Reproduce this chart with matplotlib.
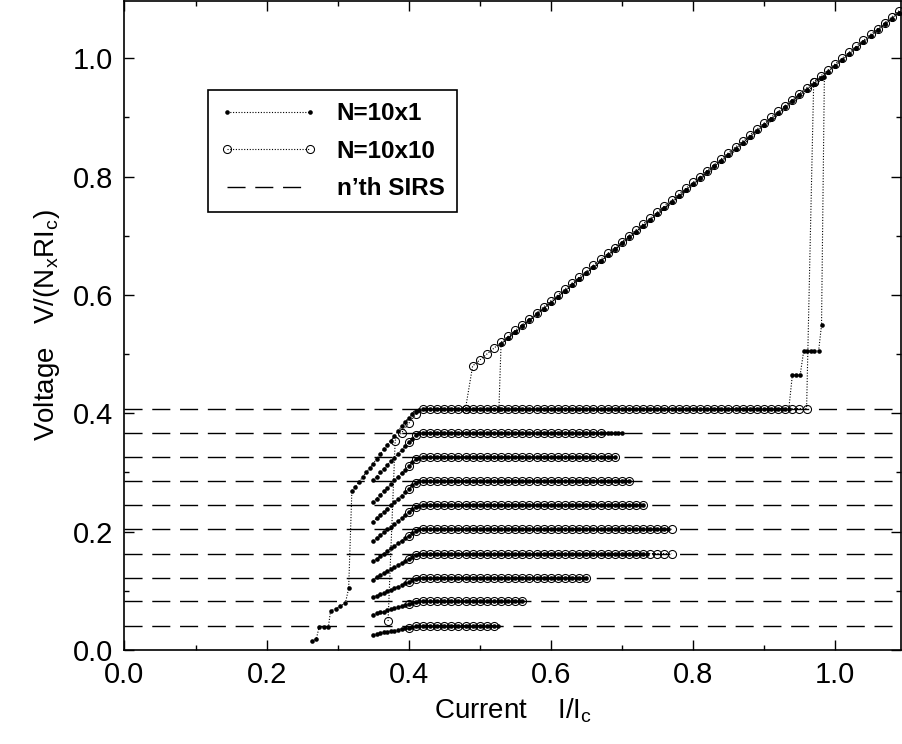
import numpy as np
import matplotlib
matplotlib.use('Agg')
import matplotlib.pyplot as plt
from matplotlib.ticker import MultipleLocator

plt.rcParams['font.family'] = ['Liberation Sans', 'DejaVu Sans']
plt.rcParams['mathtext.fontset'] = 'custom'
plt.rcParams['mathtext.rm'] = 'Liberation Sans'

# niveaux des n-ièmes SIRS
sirs_levels = [0.041, 0.082, 0.122, 0.163, 0.204, 0.245, 0.286, 0.326, 0.367, 0.408]

# N=10x1 : marche principale (balayage montant)
main1_i = [0.264, 0.270, 0.274, 0.281, 0.287, 0.290, 0.297, 0.304, 0.311, 0.3155,
           0.320, 0.325, 0.330, 0.335, 0.340, 0.345, 0.350, 0.355, 0.360, 0.365,
           0.370, 0.375, 0.380, 0.385, 0.390, 0.395, 0.400, 0.405, 0.410, 0.415]
main1_v = [0.015, 0.019, 0.039, 0.039, 0.039, 0.066, 0.070, 0.074, 0.080, 0.104,
           0.268, 0.276, 0.284, 0.292, 0.300, 0.307, 0.315, 0.323, 0.331, 0.339,
           0.347, 0.354, 0.362, 0.370, 0.378, 0.386, 0.392, 0.398, 0.403, 0.406]
plateau1_end = 0.935
jump1_i = [0.940, 0.945, 0.951, 0.956, 0.961, 0.966, 0.971, 0.977, 0.981, 0.985]
jump1_v = [0.465, 0.465, 0.465, 0.506, 0.506, 0.506, 0.506, 0.506, 0.549, 0.968]

# N=10x1 : branches basses (I = 0.350 ... 0.415), puis plateau
rise_i = [0.350, 0.355, 0.360, 0.365, 0.370, 0.375, 0.380, 0.385, 0.390, 0.395,
          0.400, 0.405, 0.410, 0.415]
rise_v = [
    [0.026, 0.027, 0.028, 0.030, 0.031, 0.032, 0.033, 0.034, 0.036, 0.037, 0.038, 0.039, 0.040, 0.041],
    [0.060, 0.062, 0.064, 0.065, 0.067, 0.069, 0.071, 0.072, 0.074, 0.076, 0.078, 0.079, 0.081, 0.082],
    [0.089, 0.092, 0.094, 0.097, 0.100, 0.102, 0.105, 0.107, 0.110, 0.113, 0.115, 0.118, 0.120, 0.122],
    [0.119, 0.123, 0.126, 0.130, 0.133, 0.137, 0.140, 0.144, 0.147, 0.151, 0.154, 0.158, 0.161, 0.163],
    [0.150, 0.154, 0.159, 0.163, 0.167, 0.172, 0.176, 0.180, 0.185, 0.189, 0.193, 0.198, 0.201, 0.204],
    [0.184, 0.189, 0.194, 0.199, 0.204, 0.208, 0.213, 0.218, 0.223, 0.228, 0.233, 0.238, 0.242, 0.244],
    [0.217, 0.223, 0.228, 0.234, 0.239, 0.245, 0.250, 0.256, 0.261, 0.267, 0.272, 0.278, 0.283, 0.285],
    [0.250, 0.256, 0.262, 0.268, 0.274, 0.280, 0.287, 0.293, 0.299, 0.305, 0.311, 0.317, 0.322, 0.325],
    [0.287, 0.293, 0.300, 0.306, 0.313, 0.319, 0.325, 0.332, 0.338, 0.345, 0.351, 0.357, 0.363, 0.366],
]
branch1_end = [0.525, 0.56, 0.65, 0.735, 0.765, 0.73, 0.71, 0.69, 0.70]

# N=10x1 : branche ohmique (I = 0.53 ... 1.09)
ohm1_i = [round(0.53 + 0.01 * k, 2) for k in range(57)]
ohm1_v = [0.517, 0.527, 0.537, 0.547, 0.557, 0.567, 0.577, 0.587, 0.597, 0.607,
          0.617, 0.627, 0.637, 0.647, 0.657, 0.667, 0.677, 0.687, 0.697, 0.707,
          0.717, 0.727, 0.737, 0.747, 0.757, 0.767, 0.777, 0.787, 0.797, 0.807,
          0.817, 0.827, 0.837, 0.847, 0.857, 0.867, 0.877, 0.887, 0.897, 0.907,
          0.917, 0.927, 0.937, 0.947, 0.957, 0.967, 0.977, 0.987, 0.997, 1.007,
          1.017, 1.027, 1.037, 1.047, 1.057, 1.067, 1.077]
drop1_i = 0.527

# N=10x10 : montée principale puis plateau jusqu'à 0.96
main10_i = [0.371, 0.381, 0.390, 0.400, 0.410]
main10_v = [0.049, 0.354, 0.367, 0.383, 0.398]
plateau10_end = 0.96

# N=10x10 : points sur les branches basses (I = 0.40, 0.41)
rise10_i = [0.400, 0.410]
rise10_v = [[0.038, 0.040], [0.078, 0.081], [0.115, 0.120], [0.154, 0.161], [0.193, 0.201],
            [0.233, 0.242], [0.272, 0.283], [0.311, 0.322], [0.351, 0.363]]
branch10_end = [0.52, 0.56, 0.65, 0.77, 0.77, 0.73, 0.71, 0.69, 0.67]

# N=10x10 : branche ohmique (I = 0.49 ... 1.09)
ohm10_i = [round(0.49 + 0.01 * k, 2) for k in range(61)]
ohm10_v = [0.480, 0.490, 0.500, 0.510, 0.520, 0.530, 0.540, 0.550, 0.560, 0.570,
           0.580, 0.590, 0.600, 0.610, 0.620, 0.630, 0.640, 0.650, 0.660, 0.670,
           0.680, 0.690, 0.700, 0.710, 0.720, 0.730, 0.740, 0.750, 0.760, 0.770,
           0.780, 0.790, 0.800, 0.810, 0.820, 0.830, 0.840, 0.850, 0.860, 0.870,
           0.880, 0.890, 0.900, 0.910, 0.920, 0.930, 0.940, 0.950, 0.960, 0.970,
           0.980, 0.990, 1.000, 1.010, 1.020, 1.030, 1.040, 1.050, 1.060, 1.070,
           1.080]
drop10_i = 0.48


def grid(start, stop, step):
    n = int(round((stop - start) / step))
    return [round(start + step * k, 3) for k in range(n + 1)]


fig = plt.figure(figsize=(9.02, 7.44), dpi=100)
ax = fig.add_axes([0.138, 0.1263, 0.861, 0.8727])

dot = dict(color='black', linestyle=(0, (1, 1.5)), linewidth=0.8,
           marker='o', markersize=3.3, markerfacecolor='black', markeredgewidth=0)
circ = dict(color='black', linestyle=(0, (1, 1.5)), linewidth=0.8,
            marker='o', markersize=5.8, markerfacecolor='none', markeredgewidth=0.75)

# lignes SIRS
for lev in sirs_levels:
    ax.plot([0, 1.2], [lev, lev], color='black', linewidth=1.0, dashes=(13, 7), zorder=1)

# ---- N=10x1 ----
top = sirs_levels[-1]
p_i = grid(0.42, plateau1_end, 0.005)
ax.plot(main1_i + p_i + jump1_i + ohm1_i,
        main1_v + [top] * len(p_i) + jump1_v + ohm1_v, zorder=3, **dot)
ax.plot([drop1_i] + ohm1_i, [top] + ohm1_v, zorder=3, **dot)
for k in range(9):
    b_i = grid(0.42, branch1_end[k], 0.005)
    ax.plot(rise_i + b_i, rise_v[k] + [sirs_levels[k]] * len(b_i), zorder=3, **dot)

# ---- N=10x10 ----
p10 = grid(0.42, plateau10_end, 0.01)
ax.plot(main10_i + p10 + [0.97], main10_v + [top] * len(p10) + [ohm10_v[48]], zorder=4, **circ)
ax.plot([drop10_i] + ohm10_i, [top] + ohm10_v, zorder=4, **circ)
for k in range(9):
    b_i = grid(0.42, branch10_end[k], 0.01)
    ax.plot(rise10_i + b_i, rise10_v[k] + [sirs_levels[k]] * len(b_i), zorder=4, **circ)

ax.set_xlim(0, 1.093)
ax.set_ylim(0, 1.097)
ax.xaxis.set_major_locator(MultipleLocator(0.2))
ax.xaxis.set_minor_locator(MultipleLocator(0.1))
ax.yaxis.set_major_locator(MultipleLocator(0.2))
ax.yaxis.set_minor_locator(MultipleLocator(0.1))
ax.xaxis.set_major_formatter(plt.FuncFormatter(lambda v, p: f"{v:.1f}"))
ax.yaxis.set_major_formatter(plt.FuncFormatter(lambda v, p: f"{v:.1f}"))
ax.tick_params(which='both', direction='in', top=True, right=True, labelsize=21, width=1.0)
ax.tick_params(which='major', length=7, pad=8)
ax.tick_params(which='minor', length=3.5)
for s in ax.spines.values():
    s.set_linewidth(1.2)

ax.set_xlabel(r'Current    I/I$_\mathregular{c}$', fontsize=20, labelpad=5)
ax.set_ylabel(r'Voltage   V/(N$_\mathregular{x}$RI$_\mathregular{c}$)', fontsize=20, labelpad=8)

# légende
h1, = ax.plot([], [], **dot)
h2, = ax.plot([], [], **circ)
h3, = ax.plot([], [], color='black', linewidth=1.0, dashes=(13, 7))
leg = ax.legend([h1, h2, h3], ['N=10x1', 'N=10x10', 'n\u2019th SIRS'],
                loc='upper left', bbox_to_anchor=(0.2306, 0.879), bbox_transform=fig.transFigure,
                borderaxespad=0, fancybox=False, framealpha=1, edgecolor='black',
                numpoints=2, handlelength=4.0, prop={'weight': 'bold', 'size': 17.5},
                borderpad=0.5, labelspacing=0.6, handletextpad=0.8)
leg.get_frame().set_linewidth(1.2)

plt.savefig('out.png', dpi=100)
plt.close()
